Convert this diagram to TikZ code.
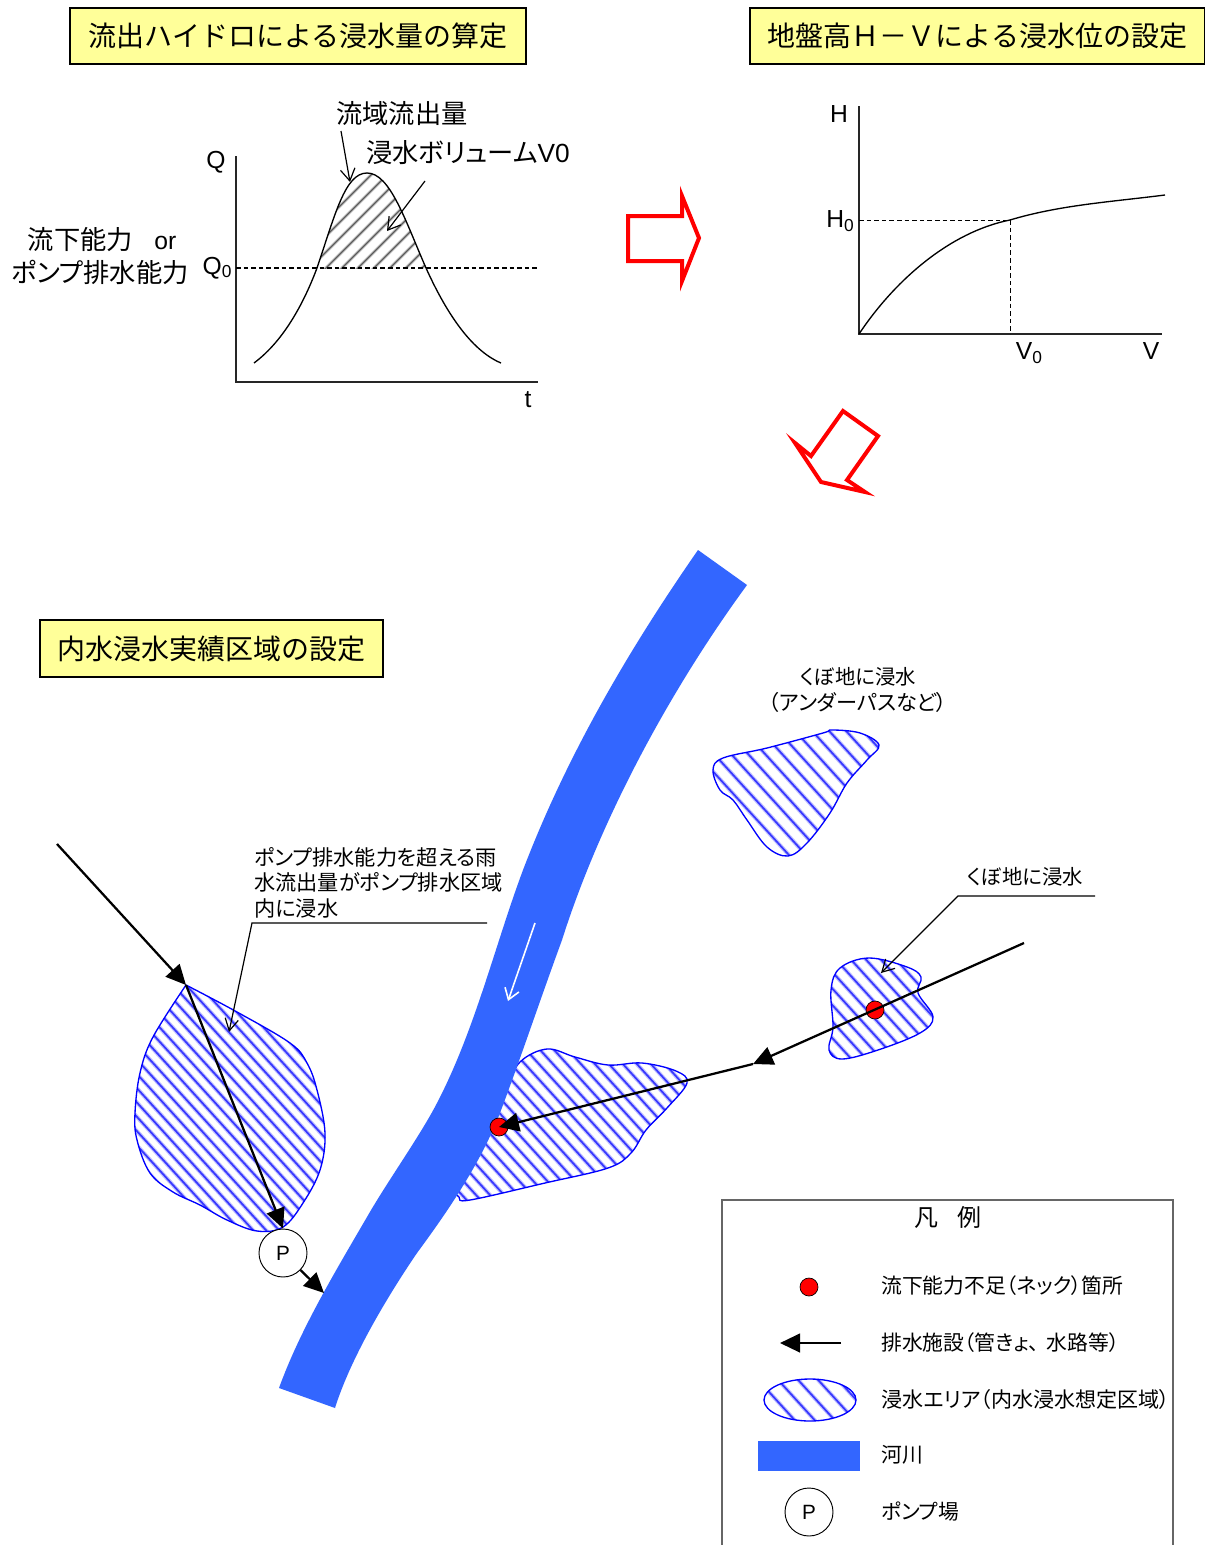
\documentclass[tikz,border=0pt]{standalone}
\usepackage{fontspec}
\setmainfont{Noto Sans CJK JP}[RawFeature=+palt]
\newfontfamily\fullcjk{Noto Sans CJK JP}
\newfontfamily\arial{Liberation Sans}
\usetikzlibrary{arrows.meta}
\definecolor{river}{HTML}{3366FF}
\definecolor{titlefill}{HTML}{FFFF99}
\newcommand\fs[1]{\fontsize{#1}{#1}\selectfont}
\newcommand\sbs[1]{\raisebox{-2.5pt}{\fontsize{13}{13}\selectfont #1}}
\newcommand\floodA{plot[smooth,tension=0.6] coordinates {(186,985) (237,1012) (290,1043) (307,1063) (317,1090) (325,1133) (320,1170) (303,1203) (283,1227) (257,1231) (227,1220) (200,1205) (173,1192) (150,1173) (137,1140) (135,1113) (140,1073) (153,1037) (186,985)} -- cycle}
\newcommand\floodB{plot[smooth cycle,tension=0.6] coordinates {(547,1049) (520,1062) (505,1090) (480,1130) (457,1185) (459,1197) (470,1200) (545,1183) (608,1168) (631,1153) (646,1130) (667,1108) (687,1083) (676,1071) (642,1063) (608,1065) (575,1057)}}
\newcommand\floodC{plot[smooth cycle,tension=0.6] coordinates {(869,958) (840,968) (831,990) (833,1027) (829,1050) (842,1059) (878,1050) (920,1033) (933,1017) (918,993) (921,977) (907,967)}}
\newcommand\floodD{plot[smooth cycle,tension=0.6] coordinates {(713,770) (723,758) (767,748) (823,733) (832,730) (860,733) (879,745) (867,760) (847,783) (830,813) (807,843) (788,856) (767,847) (747,820) (733,800) (720,790)}}
\newcommand\floodE{(810,1400) ellipse [x radius=46, y radius=21]}
\newcommand\hydro{(254,363) .. controls (285,340) and (305,300) .. (317,268) .. controls (335,215) and (345,173) .. (367,173) .. controls (390,173) and (405,220) .. (426,268) .. controls (445,310) and (470,350) .. (501,363)}
% #1 path, #2 spacing, #3 x from, #4 x to
\newcommand\floodarea[4]{%
  \fill[white] #1;
  \begin{scope}
    \clip #1;
    \pgfmathtruncatemacro\nxt{#3+#2}
    \foreach \c in {#3,\nxt,...,#4} {
      \draw[hatchsoft] (\c,700) -- (\c+900,1690);
      \draw[hatchcore] (\c,700) -- (\c+900,1690);
    }
  \end{scope}
  \draw[floodline] #1;}
\tikzset{
  hatchsoft/.style={draw=blue!25,line width=3pt},
  hatchcore/.style={draw=blue!78,line width=1.3pt},
  floodline/.style={draw=blue,line width=1pt},
  titlebox/.style={draw=black,line width=1.2pt,fill=titlefill,inner sep=0pt,font=\fullcjk\fs{21}},
  axisline/.style={draw=black!85,line width=1.4pt},
  thincurve/.style={draw=black,line width=1pt},
  dashline/.style={draw=black,line width=0.8pt,dash pattern=on 3.5pt off 2.2pt},
  barb/.style={draw=black,line width=0.9pt,-{Straight Barb[length=9pt,width=11pt]}},
  redarrow/.style={draw=red,line width=3pt,line join=miter,miter limit=20},
  drain/.style={draw=black,line width=1.7pt,-{Triangle[length=15pt,width=14pt]}},
  lab/.style={inner sep=0pt,font=\fs{19.7}},
  small/.style={inner sep=0pt,font=\fs{15.3}},
  leglab/.style={inner sep=0pt,anchor=west,font=\fs{15.6}},
  latin/.style={inner sep=0pt,font=\arial\fs{18.5}},
  reddot/.style={circle,draw=black,line width=0.5pt,fill=red,minimum size=13.5pt,inner sep=0pt},
  pumpnode/.style={circle,draw=black,line width=0.7pt,fill=white,minimum size=36pt,inner sep=0pt,font=\arial\fs{15.5}},
  legline/.style={draw=black!60,line width=0.9pt},
}
\begin{document}
\begin{tikzpicture}[x=0.75pt,y=-0.75pt]
\useasboundingbox (0,0) rectangle (1205,1545);
\fill[white] (0,0) rectangle (1205,1545);

% title boxes
\node[titlebox,minimum width=342pt,minimum height=42pt] (t1) at (298,36) {流出ハイドロによる浸水量の算定};
\node[titlebox,minimum width=341.25pt,minimum height=42pt] (t2) at (977.5,36) {地盤高Ｈ－Ｖによる浸水位の設定};
\node[titlebox,minimum width=257.25pt,minimum height=42.75pt] (t3) at (211.5,648.5) {内水浸水実績区域の設定};

% hydrograph
\begin{scope}
  \clip \hydro -- cycle;
  \clip (200,150) rectangle (540,268);
  \foreach \c in {300,316,...,720} {
    \draw[draw=black!18,line width=2.6pt] (\c,150) -- (\c-130,280);
    \draw[draw=black!65,line width=1pt] (\c,150) -- (\c-130,280);
  }
\end{scope}
\draw[axisline] (236,156) -- (236,382) -- (538,382);
\coordinate (q0a) at (236,268);
\coordinate (q0b) at (538,268);
\draw[dashline] (q0a) -- (q0b);
\draw[thincurve] \hydro;
\node[latin] (lq) at (216,162) {Q};
\node[latin] (lq0) at (217,268) {Q\sbs{0}};
\node[latin] (lt) at (528,400) {t};
\node[lab] (l1) at (102,240) {流下能力\hspace{11pt}{\arial\fs{18.5} or}};
\node[lab] (l2) at (100,272) {ポンプ排水能力};
\node[lab] (l3) at (402,114) {流域流出量};
\node[lab,anchor=west] (l4) at (366,153) {浸水ボリューム{\arial V0}};
\coordinate (a1s) at (341,131);
\coordinate (a1e) at (350,182);
\coordinate (a2s) at (425,181);
\coordinate (a2e) at (387,231);
\draw[barb] (a1s) -- (a1e);
\draw[barb] (a2s) -- (a2e);

% H-V curve
\draw[axisline] (859,106) -- (859,334) -- (1162,334);
\coordinate (h0) at (859,220);
\coordinate (hv) at (1010,220);
\coordinate (v0) at (1010,334);
\draw[dashline,line width=0.6pt] (h0) -- (hv);
\draw[dashline,line width=0.6pt] (hv) -- (v0);
\draw[thincurve] (859,334) .. controls (895,280) and (950,232) .. (1010,220) .. controls (1060,205) and (1110,202) .. (1165,195);
\node[latin] (lh) at (839,114) {H};
\node[latin] (lh0) at (840,221) {H\sbs{0}};
\node[latin] (lv0) at (1029,353) {V\sbs{0}};
\node[latin] (lv) at (1151,351) {V};

% red arrows
\draw[redarrow] (628,216) -- (682,216) -- (682,196) -- (699,238) -- (682,281) -- (682,261) -- (628,261) -- cycle;
\draw[redarrow] (843,411) -- (878,436) -- (847,480) -- (865,492) -- (821,482) -- (795,443) -- (811,456) -- cycle;

% flooded area behind the river
\floodarea{\floodB}{14}{-800}{700}

% river
\fill[river] (698,550) .. controls (625,655) and (565,760) .. (523,870)
  .. controls (495,945) and (475,1030) .. (437,1103)
  .. controls (420,1136) and (387,1182) .. (367,1217)
  .. controls (335,1272) and (300,1330) .. (279,1388)
  -- (335,1408)
  .. controls (350,1360) and (385,1300) .. (417,1253)
  .. controls (445,1215) and (480,1165) .. (500,1113)
  .. controls (520,1060) and (540,1000) .. (562,940)
  .. controls (600,820) and (670,690) .. (747,585) -- cycle;
\coordinate (wa) at (535,923);
\coordinate (wb) at (508,1001);
\draw[draw=white,line width=1.2pt,-{Straight Barb[length=8pt,width=11pt]}] (wa) -- (wb);

% other flooded areas
\floodarea{\floodA}{13}{-1100}{340}
\floodarea{\floodC}{15}{-300}{950}
\floodarea{\floodD}{17}{-100}{900}

% texts and leaders of flooded areas
\node[inner sep=0pt,align=left,anchor=north west,font=\fontsize{15.9}{19.2}\selectfont] (l5) at (254,847) {ポンプ排水能力を超える雨\\水流出量がポンプ排水区域\\内に浸水};
\coordinate (b1) at (487,923);
\coordinate (b2) at (252,923);
\coordinate (b3) at (229,1032);
\draw[barb,-{Straight Barb[length=9pt,width=10pt]}] (b1) -- (b2) -- (b3);
\node[small] (l6) at (858,677) {くぼ地に浸水};
\node[small,font=\fs{15.9}] (l7) at (858,702) {（アンダーパスなど）};
\node[small] (l8) at (1025,877) {くぼ地に浸水};
\coordinate (c1) at (1095,896);
\coordinate (c2) at (958,896);
\coordinate (c3) at (881,973);
\draw[barb,-{Straight Barb[length=9pt,width=10pt]}] (c1) -- (c2) -- (c3);

% drains
\node[reddot] (dotC) at (875,1010) {};
\node[reddot] (dotB) at (499,1127) {};
\node[pumpnode] (pump) at (283,1253) {P};
\coordinate (d1) at (57,844);
\coordinate (d2) at (186,985);
\coordinate (d3) at (324,1293);
\coordinate (d4) at (1024,943);
\coordinate (d5) at (753,1064);
\draw[drain] (d1) -- (d2);
\draw[drain] (d2) -- (pump.north);
\draw[drain] (pump) -- (d3);
\draw[drain] (d4) -- (d5);
\draw[drain] (d5) -- (dotB.center);

% legend
\draw[legline] (722,1545) -- (722,1200) -- (1173,1200) -- (1173,1545);
\node[lab,font=\fs{18}] (lg0) at (948,1217) {凡\hspace{14pt}例};
\node[reddot] (lgdot) at (809,1287) {};
\coordinate (lga) at (841,1343);
\coordinate (lgb) at (780,1343);
\draw[drain] (lga) -- (lgb);
\floodarea{\floodE}{20}{-700}{860}
\fill[river] (758,1441) rectangle (860,1471);
\node[pumpnode] (lgp) at (809,1512) {P};
\node[leglab] (lg1) at (881,1286) {流下能力不足（ネック）箇所};
\node[leglab] (lg2) at (881,1343) {排水施設（管きょ、\hspace{6pt}水路等）};
\node[leglab,font=\fs{15.8}] (lg3) at (881,1399) {浸水エリア（内水浸水想定区域）};
\node[leglab] (lg4) at (881,1455) {河川};
\node[leglab] (lg5) at (881,1512) {ポンプ場};
\end{tikzpicture}
\end{document}
